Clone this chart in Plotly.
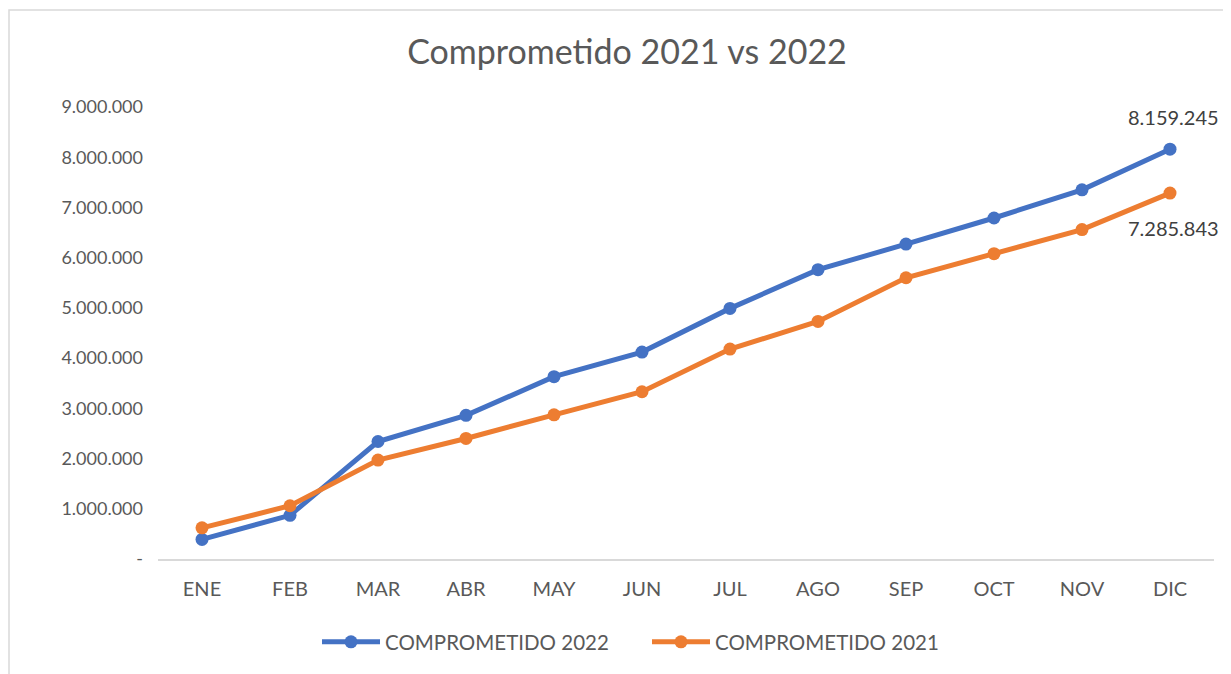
import plotly.graph_objects as go

months = ["ENE", "FEB", "MAR", "ABR", "MAY", "JUN", "JUL", "AGO", "SEP", "OCT", "NOV", "DIC"]
comprometido_2022 = [390000, 870000, 2340000, 2860000, 3630000, 4120000, 4990000, 5760000, 6270000, 6790000, 7350000, 8159245]
comprometido_2021 = [620000, 1060000, 1970000, 2400000, 2870000, 3330000, 4180000, 4730000, 5600000, 6080000, 6560000, 7285843]
y_tickvals = [0, 1000000, 2000000, 3000000, 4000000, 5000000, 6000000, 7000000, 8000000, 9000000]
y_ticktext = ["-", "1.000.000", "2.000.000", "3.000.000", "4.000.000", "5.000.000",
              "6.000.000", "7.000.000", "8.000.000", "9.000.000"]

BLUE = "#4472C4"
ORANGE = "#ED7D31"
GREY_TXT = "#595959"
FONT = "Lato"

W, H = 1231, 674
OFF = 8  # page body offset
ML, MR, MT, MB = 158 - OFF, 17 + OFF, 107 - OFF, 115 + OFF
PW = W - ML - MR
PH = H - MT - MB


def fmt(v):
    return f"{v:,}".replace(",", ".")


fig = go.Figure()
fig.add_trace(go.Scatter(
    x=months, y=comprometido_2022, name="COMPROMETIDO 2022",
    mode="lines+markers",
    line=dict(color=BLUE, width=5),
    marker=dict(color=BLUE, size=13),
))
fig.add_trace(go.Scatter(
    x=months, y=comprometido_2021, name="COMPROMETIDO 2021",
    mode="lines+markers",
    line=dict(color=ORANGE, width=5),
    marker=dict(color=ORANGE, size=13),
))

fig.add_annotation(x=months[-1], y=comprometido_2022[-1], text=fmt(comprometido_2022[-1]),
                   showarrow=False, yshift=32, xshift=3,
                   font=dict(family=FONT, size=20, color="#404040"))
fig.add_annotation(x=months[-1], y=comprometido_2021[-1], text=fmt(comprometido_2021[-1]),
                   showarrow=False, yshift=-35, xshift=3,
                   font=dict(family=FONT, size=20, color="#404040"))

# chart frame
fig.add_shape(type="rect", xref="paper", yref="paper",
              x0=(9 - OFF - ML) / PW, x1=(W + 20 - ML) / PW,
              y0=(H - MB - (H + 20)) / PH, y1=(H - MB - (10 - OFF)) / PH,
              line=dict(color="#d9d9d9", width=1.5), fillcolor="rgba(0,0,0,0)", layer="below")

fig.update_layout(
    width=W, height=H,
    margin=dict(l=ML, r=MR, t=MT, b=MB),
    paper_bgcolor="white", plot_bgcolor="white",
    title=dict(text="Comprometido 2021 vs 2022", x=(627 - OFF) / W, xanchor="center",
               y=1 - (52 - OFF) / H, yanchor="middle",
               font=dict(family=FONT, size=34, color=GREY_TXT)),
    font=dict(family=FONT, color=GREY_TXT),
    showlegend=True,
    legend=dict(orientation="h", x=(647 - OFF - ML) / PW, xanchor="center",
                y=(H - MB - (642 - OFF)) / PH, yanchor="middle",
                font=dict(family=FONT, size=20.5, color=GREY_TXT),
                itemwidth=58, entrywidth=257, entrywidthmode="pixels",
                bgcolor="rgba(0,0,0,0)"),
    xaxis=dict(range=[-0.5, 11.5], showgrid=False, showline=True, linecolor="#d9d9d9",
               linewidth=1.5, ticks="", ticklabelstandoff=11,
               tickfont=dict(family=FONT, size=20, color=GREY_TXT),
               zeroline=False, fixedrange=True),
    yaxis=dict(range=[0, 9000000], tickvals=y_tickvals, ticktext=y_ticktext,
               showgrid=False, showline=False, zeroline=False, ticks="",
               ticklabelstandoff=14,
               tickfont=dict(family=FONT, size=18, color=GREY_TXT), fixedrange=True),
)

fig.write_html("out.html")
